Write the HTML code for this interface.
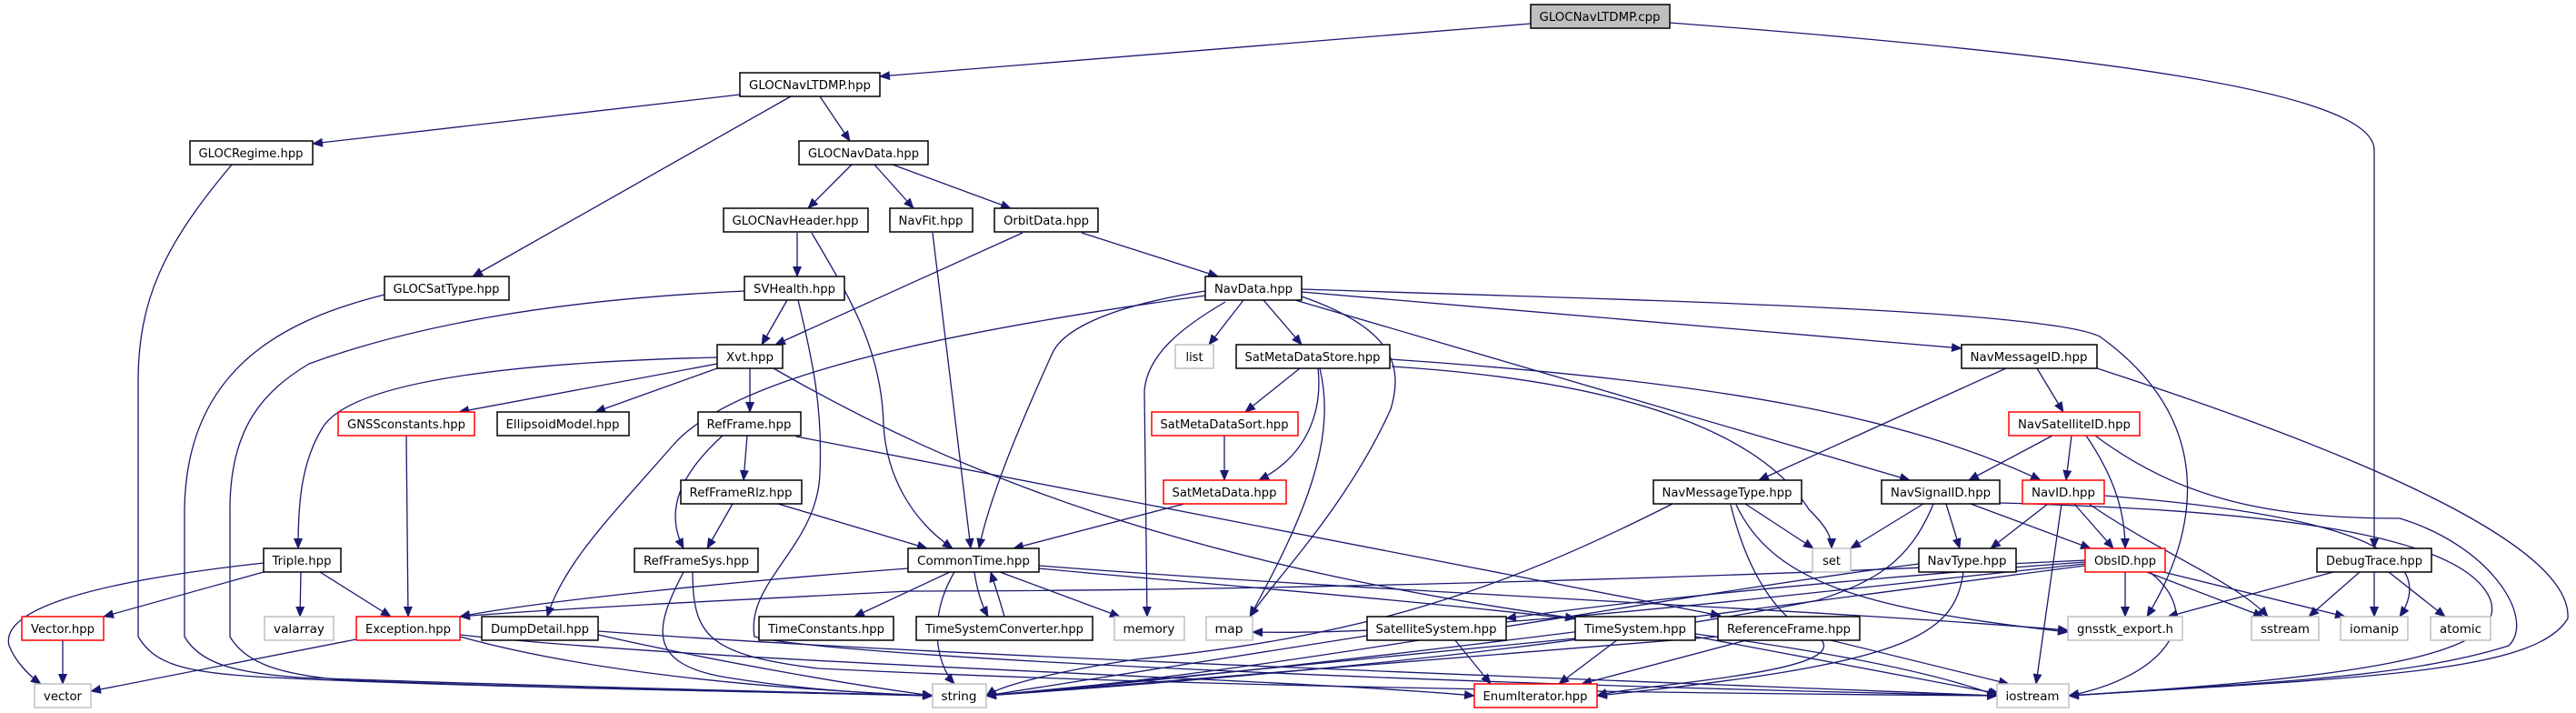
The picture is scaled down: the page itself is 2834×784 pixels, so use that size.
<!DOCTYPE html>
<html><head><meta charset="utf-8"><style>
html,body{margin:0;padding:0;background:#fff;width:2834px;height:784px;overflow:hidden}
svg{display:block}
text{font-family:"DejaVu Sans","Liberation Sans",sans-serif;font-size:13px;fill:#000}
.e{fill:none;stroke:#191970;stroke-width:1.3;marker-end:url(#a)}
.n{fill:#fff;stroke:#000;stroke-width:1.5}
.g{fill:#fff;stroke:#bfbfbf;stroke-width:1.5}
.r{fill:#fff;stroke:#ff0000;stroke-width:1.5}
</style></head><body>
<svg width="2834" height="784" viewBox="0 0 2834 784" xmlns="http://www.w3.org/2000/svg">
<defs><marker id="a" markerWidth="12" markerHeight="10" refX="11" refY="5" orient="auto" markerUnits="userSpaceOnUse"><path d="M0,0 L12,5 L0,10 z" fill="#191970"/></marker></defs>
<g>
<path class="e" d="M1684,26 L968,84"/>
<path class="e" d="M1837,25 C2300,60 2612,100 2612,165 L2612,603"/>
<path class="e" d="M814,104 L344,158"/>
<path class="e" d="M870,106 L520,304"/>
<path class="e" d="M902,106 L935,155"/>
<path class="e" d="M255,181 C180,270 152,330 152,420 L152,700 C170,730 200,740 300,745 C500,755 800,760 1026,765"/>
<path class="e" d="M937,181 L889,229"/>
<path class="e" d="M962,181 L1005,229"/>
<path class="e" d="M982,181 L1112,229"/>
<path class="e" d="M877,256 L877,304"/>
<path class="e" d="M893,256 C930,320 970,380 972,467 C975,520 1000,570 1048,603"/>
<path class="e" d="M1026,256 L1068,603"/>
<path class="e" d="M1125,256 L853,379"/>
<path class="e" d="M1190,256 L1340,304"/>
<path class="e" d="M423,324 C320,350 205,400 203,560 L203,700 C220,730 260,740 330,745 C600,755 850,760 1026,765"/>
<path class="e" d="M866,330 L838,379"/>
<path class="e" d="M819,320 C600,330 450,360 340,400 C290,430 253,470 253,560 L253,700 C270,730 310,742 380,748 C650,758 900,762 1026,765"/>
<path class="e" d="M878,330 C895,400 905,450 902,520 C900,600 820,640 830,700 C900,720 1500,750 2197,765"/>
<path class="e" d="M789,400 L505,453"/>
<path class="e" d="M789,405 L655,453"/>
<path class="e" d="M825,405 L825,453"/>
<path class="e" d="M789,393 C500,400 380,430 355,470 C330,510 328,560 328,603"/>
<path class="e" d="M851,405 C1050,520 1300,620 1733,680"/>
<path class="e" d="M876,480 L1893,677"/>
<path class="e" d="M822,479 L818,528"/>
<path class="e" d="M795,479 C750,520 730,560 752,603"/>
<path class="e" d="M806,554 L778,603"/>
<path class="e" d="M856,554 L1020,603"/>
<path class="e" d="M752,629 C720,690 710,730 800,745 C880,758 960,763 1026,765"/>
<path class="e" d="M762,629 C762,700 780,720 900,735 C1300,755 1800,762 2197,765"/>
<path class="e" d="M290,619 C100,640 0,670 10,710 C18,730 35,745 45,752"/>
<path class="e" d="M290,629 L114,678"/>
<path class="e" d="M331,629 L330,678"/>
<path class="e" d="M352,629 L430,678"/>
<path class="e" d="M447,479 L449,678"/>
<path class="e" d="M69,703 L69,752"/>
<path class="e" d="M392,703 L100,760"/>
<path class="e" d="M506,700 C650,740 850,758 1026,765"/>
<path class="e" d="M506,698 C800,730 1400,745 1622,765"/>
<path class="e" d="M658,698 C800,730 950,755 1026,765"/>
<path class="e" d="M658,694 C1000,720 1700,745 2197,765"/>
<path class="e" d="M1326,325 C1000,370 800,420 740,490 C670,570 620,620 602,678"/>
<path class="e" d="M1326,320 C1200,340 1165,370 1157,390 C1130,450 1090,540 1077,603"/>
<path class="e" d="M1348,332 C1300,360 1262,390 1259,430 L1262,678"/>
<path class="e" d="M1368,330 L1330,379"/>
<path class="e" d="M1390,330 L1432,379"/>
<path class="e" d="M1432,326 C1530,360 1545,400 1530,450 C1480,560 1400,640 1375,678"/>
<path class="e" d="M1432,321 L2158,383"/>
<path class="e" d="M1425,330 L2101,528"/>
<path class="e" d="M1432,318 C1800,330 2250,340 2310,370 C2450,470 2410,600 2362,678"/>
<path class="e" d="M1430,405 L1370,453"/>
<path class="e" d="M1450,405 C1455,450 1440,500 1385,528"/>
<path class="e" d="M1452,405 C1470,480 1440,560 1375,678"/>
<path class="e" d="M1531,403 C1800,420 1940,480 1990,560 C2010,580 2015,590 2015,603"/>
<path class="e" d="M1529,395 C1900,420 2100,460 2245,528"/>
<path class="e" d="M1347,479 L1347,528"/>
<path class="e" d="M1303,554 L1115,603"/>
<path class="e" d="M1072,629 C1075,650 1080,665 1087,678"/>
<path class="e" d="M1105,678 C1100,660 1095,645 1090,629"/>
<path class="e" d="M1100,629 L1232,678"/>
<path class="e" d="M1045,629 L940,678"/>
<path class="e" d="M999,625 C800,640 600,660 506,678"/>
<path class="e" d="M1143,625 C1400,650 2000,690 2197,765"/>
<path class="e" d="M1143,622 C1500,650 2000,670 2275,693"/>
<path class="e" d="M1050,629 C1020,680 1030,730 1050,752"/>
<path class="e" d="M2207,405 L1935,528"/>
<path class="e" d="M2241,405 L2270,453"/>
<path class="e" d="M2307,405 C2600,500 2830,600 2825,680 C2790,740 2600,745 2276,765"/>
<path class="e" d="M2258,479 L2166,528"/>
<path class="e" d="M2279,479 L2273,528"/>
<path class="e" d="M2295,479 C2330,530 2338,570 2338,603"/>
<path class="e" d="M2305,479 C2400,550 2500,570 2640,570 C2740,600 2790,680 2760,710 C2650,745 2500,750 2276,765"/>
<path class="e" d="M2116,554 L2036,603"/>
<path class="e" d="M2141,554 L2156,603"/>
<path class="e" d="M2168,554 L2300,603"/>
<path class="e" d="M2127,554 C2100,620 2060,640 2000,660 C1700,720 1300,750 1085,765"/>
<path class="e" d="M2200,553 C2450,560 2710,580 2740,660 C2760,720 2600,745 2276,765"/>
<path class="e" d="M2253,554 L2190,603"/>
<path class="e" d="M2282,554 L2325,603"/>
<path class="e" d="M2268,554 L2240,752"/>
<path class="e" d="M2298,554 C2380,610 2460,640 2495,678"/>
<path class="e" d="M2315,545 C2500,560 2700,590 2640,678"/>
<path class="e" d="M1920,554 L1995,603"/>
<path class="e" d="M1840,554 C1650,650 1500,700 1250,725 C1150,740 1100,755 1085,765"/>
<path class="e" d="M1904,555 C1920,620 1950,680 2000,700 C2050,740 1800,752 1757,765"/>
<path class="e" d="M1910,555 C1950,640 2050,670 2275,695"/>
<path class="e" d="M2111,620 C1800,660 1400,740 1085,765"/>
<path class="e" d="M2160,629 C2150,700 2100,730 1757,765"/>
<path class="e" d="M2338,629 L2338,678"/>
<path class="e" d="M2362,629 L2490,678"/>
<path class="e" d="M2380,629 L2580,678"/>
<path class="e" d="M2365,629 C2430,680 2380,745 2276,765"/>
<path class="e" d="M2294,620 C2000,650 1600,700 1378,695"/>
<path class="e" d="M2294,618 C2000,640 1800,660 1657,680"/>
<path class="e" d="M2294,616 C1800,640 1300,650 1000,650 C800,660 600,670 506,678"/>
<path class="e" d="M2294,622 C2000,660 1500,730 1085,765"/>
<path class="e" d="M2567,629 L2385,678"/>
<path class="e" d="M2596,629 L2540,678"/>
<path class="e" d="M2612,629 L2612,678"/>
<path class="e" d="M2628,629 L2690,678"/>
<path class="e" d="M1504,699 L1085,765"/>
<path class="e" d="M1600,703 L1640,752"/>
<path class="e" d="M1733,702 L1085,765"/>
<path class="e" d="M1780,703 L1715,752"/>
<path class="e" d="M1865,700 L2200,763"/>
<path class="e" d="M1925,703 L1740,752"/>
<path class="e" d="M1890,700 L1085,765"/>
<path class="e" d="M2010,703 L2210,752"/>
</g>
<g>
<rect x="1684" y="5" width="153" height="26" fill="#bfbfbf" stroke="#000" stroke-width="1.5"/><text x="1760" y="23" text-anchor="middle" textLength="133" lengthAdjust="spacingAndGlyphs">GLOCNavLTDMP.cpp</text>
<rect class="n" x="814" y="80" width="154" height="26"/><text x="891" y="98" text-anchor="middle" textLength="134" lengthAdjust="spacingAndGlyphs">GLOCNavLTDMP.hpp</text>
<rect class="n" x="209" y="155" width="135" height="26"/><text x="276" y="173" text-anchor="middle" textLength="115" lengthAdjust="spacingAndGlyphs">GLOCRegime.hpp</text>
<rect class="n" x="879" y="155" width="142" height="26"/><text x="950" y="173" text-anchor="middle" textLength="122" lengthAdjust="spacingAndGlyphs">GLOCNavData.hpp</text>
<rect class="n" x="796" y="229" width="159" height="26"/><text x="875" y="247" text-anchor="middle" textLength="139" lengthAdjust="spacingAndGlyphs">GLOCNavHeader.hpp</text>
<rect class="n" x="979" y="229" width="91" height="26"/><text x="1024" y="247" text-anchor="middle" textLength="71" lengthAdjust="spacingAndGlyphs">NavFit.hpp</text>
<rect class="n" x="1094" y="229" width="114" height="26"/><text x="1151" y="247" text-anchor="middle" textLength="94" lengthAdjust="spacingAndGlyphs">OrbitData.hpp</text>
<rect class="n" x="423" y="304" width="137" height="26"/><text x="491" y="322" text-anchor="middle" textLength="117" lengthAdjust="spacingAndGlyphs">GLOCSatType.hpp</text>
<rect class="n" x="819" y="304" width="110" height="26"/><text x="874" y="322" text-anchor="middle" textLength="90" lengthAdjust="spacingAndGlyphs">SVHealth.hpp</text>
<rect class="n" x="1326" y="304" width="106" height="26"/><text x="1379" y="322" text-anchor="middle" textLength="86" lengthAdjust="spacingAndGlyphs">NavData.hpp</text>
<rect class="n" x="789" y="379" width="72" height="26"/><text x="825" y="397" text-anchor="middle" textLength="52" lengthAdjust="spacingAndGlyphs">Xvt.hpp</text>
<rect class="g" x="1293" y="379" width="42" height="26"/><text x="1314" y="397" text-anchor="middle">list</text>
<rect class="n" x="1360" y="379" width="169" height="26"/><text x="1444" y="397" text-anchor="middle" textLength="149" lengthAdjust="spacingAndGlyphs">SatMetaDataStore.hpp</text>
<rect class="n" x="2158" y="379" width="149" height="26"/><text x="2232" y="397" text-anchor="middle" textLength="129" lengthAdjust="spacingAndGlyphs">NavMessageID.hpp</text>
<rect class="r" x="372" y="453" width="150" height="26"/><text x="447" y="471" text-anchor="middle" textLength="130" lengthAdjust="spacingAndGlyphs">GNSSconstants.hpp</text>
<rect class="n" x="547" y="453" width="145" height="26"/><text x="619" y="471" text-anchor="middle" textLength="125" lengthAdjust="spacingAndGlyphs">EllipsoidModel.hpp</text>
<rect class="n" x="768" y="453" width="113" height="26"/><text x="824" y="471" text-anchor="middle" textLength="93" lengthAdjust="spacingAndGlyphs">RefFrame.hpp</text>
<rect class="r" x="1267" y="453" width="161" height="26"/><text x="1347" y="471" text-anchor="middle" textLength="141" lengthAdjust="spacingAndGlyphs">SatMetaDataSort.hpp</text>
<rect class="r" x="2210" y="453" width="144" height="26"/><text x="2282" y="471" text-anchor="middle" textLength="124" lengthAdjust="spacingAndGlyphs">NavSatelliteID.hpp</text>
<rect class="n" x="749" y="528" width="133" height="26"/><text x="815" y="546" text-anchor="middle" textLength="113" lengthAdjust="spacingAndGlyphs">RefFrameRlz.hpp</text>
<rect class="r" x="1280" y="528" width="135" height="26"/><text x="1347" y="546" text-anchor="middle" textLength="115" lengthAdjust="spacingAndGlyphs">SatMetaData.hpp</text>
<rect class="n" x="1819" y="528" width="163" height="26"/><text x="1900" y="546" text-anchor="middle" textLength="143" lengthAdjust="spacingAndGlyphs">NavMessageType.hpp</text>
<rect class="n" x="2070" y="528" width="130" height="26"/><text x="2135" y="546" text-anchor="middle" textLength="110" lengthAdjust="spacingAndGlyphs">NavSignalID.hpp</text>
<rect class="r" x="2225" y="528" width="90" height="26"/><text x="2270" y="546" text-anchor="middle" textLength="70" lengthAdjust="spacingAndGlyphs">NavID.hpp</text>
<rect class="n" x="290" y="603" width="85" height="26"/><text x="332" y="621" text-anchor="middle" textLength="65" lengthAdjust="spacingAndGlyphs">Triple.hpp</text>
<rect class="n" x="698" y="603" width="136" height="26"/><text x="766" y="621" text-anchor="middle" textLength="116" lengthAdjust="spacingAndGlyphs">RefFrameSys.hpp</text>
<rect class="n" x="999" y="603" width="144" height="26"/><text x="1071" y="621" text-anchor="middle" textLength="124" lengthAdjust="spacingAndGlyphs">CommonTime.hpp</text>
<rect class="g" x="1994" y="603" width="42" height="26"/><text x="2015" y="621" text-anchor="middle">set</text>
<rect class="n" x="2111" y="603" width="107" height="26"/><text x="2164" y="621" text-anchor="middle" textLength="87" lengthAdjust="spacingAndGlyphs">NavType.hpp</text>
<rect class="r" x="2294" y="603" width="88" height="26"/><text x="2338" y="621" text-anchor="middle" textLength="68" lengthAdjust="spacingAndGlyphs">ObsID.hpp</text>
<rect class="n" x="2549" y="603" width="126" height="26"/><text x="2612" y="621" text-anchor="middle" textLength="106" lengthAdjust="spacingAndGlyphs">DebugTrace.hpp</text>
<rect class="r" x="24" y="678" width="90" height="26"/><text x="69" y="696" text-anchor="middle" textLength="70" lengthAdjust="spacingAndGlyphs">Vector.hpp</text>
<rect class="g" x="291" y="678" width="76" height="26"/><text x="329" y="696" text-anchor="middle" textLength="56" lengthAdjust="spacingAndGlyphs">valarray</text>
<rect class="r" x="392" y="678" width="114" height="26"/><text x="449" y="696" text-anchor="middle" textLength="94" lengthAdjust="spacingAndGlyphs">Exception.hpp</text>
<rect class="n" x="530" y="678" width="128" height="26"/><text x="594" y="696" text-anchor="middle" textLength="108" lengthAdjust="spacingAndGlyphs">DumpDetail.hpp</text>
<rect class="n" x="835" y="678" width="148" height="26"/><text x="909" y="696" text-anchor="middle" textLength="128" lengthAdjust="spacingAndGlyphs">TimeConstants.hpp</text>
<rect class="n" x="1008" y="678" width="194" height="26"/><text x="1105" y="696" text-anchor="middle" textLength="174" lengthAdjust="spacingAndGlyphs">TimeSystemConverter.hpp</text>
<rect class="g" x="1226" y="678" width="77" height="26"/><text x="1264" y="696" text-anchor="middle" textLength="57" lengthAdjust="spacingAndGlyphs">memory</text>
<rect class="g" x="1327" y="678" width="51" height="26"/><text x="1352" y="696" text-anchor="middle" textLength="31" lengthAdjust="spacingAndGlyphs">map</text>
<rect class="n" x="1504" y="678" width="153" height="26"/><text x="1580" y="696" text-anchor="middle" textLength="133" lengthAdjust="spacingAndGlyphs">SatelliteSystem.hpp</text>
<rect class="n" x="1733" y="678" width="132" height="26"/><text x="1799" y="696" text-anchor="middle" textLength="112" lengthAdjust="spacingAndGlyphs">TimeSystem.hpp</text>
<rect class="n" x="1890" y="678" width="156" height="26"/><text x="1968" y="696" text-anchor="middle" textLength="136" lengthAdjust="spacingAndGlyphs">ReferenceFrame.hpp</text>
<rect class="g" x="2275" y="678" width="126" height="26"/><text x="2338" y="696" text-anchor="middle" textLength="106" lengthAdjust="spacingAndGlyphs">gnsstk_export.h</text>
<rect class="g" x="2477" y="678" width="74" height="26"/><text x="2514" y="696" text-anchor="middle" textLength="54" lengthAdjust="spacingAndGlyphs">sstream</text>
<rect class="g" x="2575" y="678" width="74" height="26"/><text x="2612" y="696" text-anchor="middle" textLength="54" lengthAdjust="spacingAndGlyphs">iomanip</text>
<rect class="g" x="2674" y="678" width="66" height="26"/><text x="2707" y="696" text-anchor="middle" textLength="46" lengthAdjust="spacingAndGlyphs">atomic</text>
<rect class="g" x="38" y="752" width="62" height="26"/><text x="69" y="770" text-anchor="middle" textLength="42" lengthAdjust="spacingAndGlyphs">vector</text>
<rect class="g" x="1026" y="752" width="59" height="26"/><text x="1055" y="770" text-anchor="middle" textLength="39" lengthAdjust="spacingAndGlyphs">string</text>
<rect class="r" x="1622" y="752" width="135" height="26"/><text x="1689" y="770" text-anchor="middle" textLength="115" lengthAdjust="spacingAndGlyphs">EnumIterator.hpp</text>
<rect class="g" x="2197" y="752" width="79" height="26"/><text x="2236" y="770" text-anchor="middle" textLength="59" lengthAdjust="spacingAndGlyphs">iostream</text>
</g>
</svg>
</body></html>
